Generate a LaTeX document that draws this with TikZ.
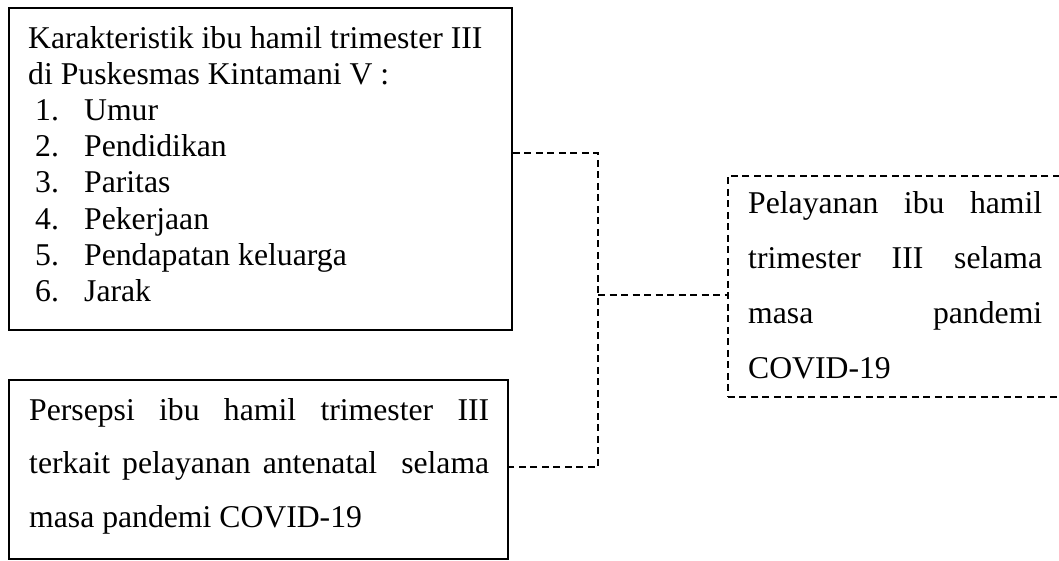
\documentclass[tikz,border=0pt]{standalone}
\usepackage{fontspec}
\setmainfont{Liberation Serif}
\tikzset{
  solidbox/.style={draw, line width=1.9pt, rectangle, inner sep=0pt, anchor=north west},
  dashbox/.style={draw, line width=1.6pt, rectangle, inner sep=0pt, anchor=north west, dash pattern=on 7pt off 4.5pt},
  conn/.style={line width=1.6pt, dash pattern=on 7pt off 4.5pt},
  txt/.style={inner sep=0pt, anchor=base west}
}
\newcommand{\itm}[2]{\hspace*{7pt}\makebox[49pt][l]{#1}#2}
\begin{document}
\begin{tikzpicture}[x=1pt,y=-1pt]
\useasboundingbox (0,0) rectangle (1059,560);
\clip (0,0) rectangle (1059,560);
% boxes
\node[solidbox, minimum width=503pt, minimum height=322pt] (box1) at (8,7) {};
\node[solidbox, minimum width=499pt, minimum height=179pt] (box2) at (8,379) {};
\node[dashbox, minimum width=343pt, minimum height=221pt] (box3) at (727,175) {};
% texts
\node[txt] (t1) at (28,48) {\parbox[t]{475pt}{\fontsize{31.7}{36.2}\selectfont
Karakteristik ibu hamil trimester III\\
di Puskesmas Kintamani V :\\
\itm{1.}{Umur}\\
\itm{2.}{Pendidikan}\\
\itm{3.}{Paritas}\\
\itm{4.}{Pekerjaan}\\
\itm{5.}{Pendapatan keluarga}\\
\itm{6.}{Jarak}}};
\node[txt] (t2) at (29,420) {\parbox[t]{460pt}{\fontsize{31.7}{53.5}\selectfont
\makebox[460pt][s]{Persepsi ibu hamil trimester III}\\
\makebox[460pt][s]{terkait pelayanan antenatal\ \ selama}\\
masa pandemi COVID-19}};
\node[txt] (t3) at (748,213) {\parbox[t]{294pt}{\fontsize{31.7}{55}\selectfont
\makebox[294pt][s]{Pelayanan ibu hamil}\\
\makebox[294pt][s]{trimester III selama}\\
\makebox[294pt][s]{masa pandemi}\\
COVID-19}};
% connectors
\coordinate (j1) at (598,153);
\coordinate (j2) at (598,467);
\coordinate (j3) at (598,295);
\draw[conn] (box1.east |- j1) -- (j1) -- (j2) -- (box2.east |- j2);
\draw[conn] (j3) -- (box3.west |- j3);
\end{tikzpicture}
\end{document}
